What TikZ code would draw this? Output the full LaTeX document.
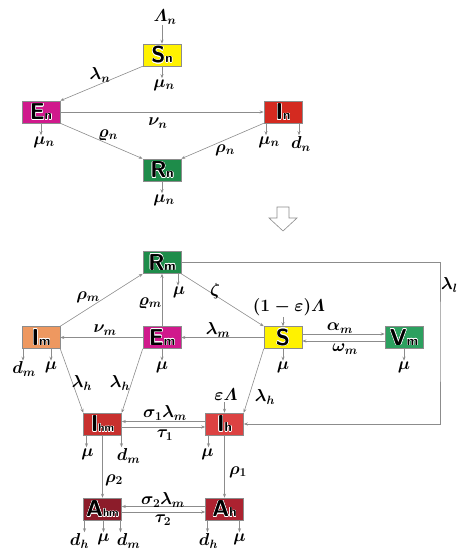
\documentclass[tikz,border=0pt]{standalone}
\usepackage{amsmath,amssymb}
\usepackage{contour}
\usetikzlibrary{arrows.meta,calc}
\contourlength{0.45pt}
\definecolor{susY}{HTML}{FFF200}
\definecolor{expM}{HTML}{D0198C}
\definecolor{infR}{HTML}{D42A20}
\definecolor{recG}{HTML}{1E8C4A}
\definecolor{infO}{HTML}{EE9860}
\definecolor{vacG}{HTML}{2CA05F}
\definecolor{ihmR}{HTML}{C8302E}
\definecolor{ihR}{HTML}{DC4242}
\definecolor{ahmR}{HTML}{8C1C2A}
\definecolor{ahR}{HTML}{AC2230}
\definecolor{lineG}{HTML}{8C8C8C}
\newcommand{\cmp}[2]{{\sffamily\bfseries\fontsize{23}{23}\selectfont\contour{white}{#1}%
  \fontsize{13}{13}\selectfont\contour{white}{#2}}}

\begin{document}
\begin{tikzpicture}[
  x=1pt, y=-1pt,
  box/.style={draw=black!45, line width=0.5pt, minimum width=38pt,
    minimum height=22pt, inner sep=0pt},
  rate/.style={font=\fontsize{17}{17}\selectfont\boldmath, inner sep=1pt},
  flow/.style={draw=lineG, line width=0.6pt, -{Stealth[length=4pt,width=3pt]}}
]
\useasboundingbox (0,0) rectangle (458,553);

% Upper model.
\node[box, fill=susY] (Sn) at (162,55) {\cmp{S}{n}};
\node[box, fill=expM] (En) at (41,112) {\cmp{E}{n}};
\node[box, fill=infR] (In) at (283,112) {\cmp{I}{n}};
\node[box, fill=recG] (Rn) at (162,170) {\cmp{R}{n}};

\node[rate] (Lamn) at (165,17) {$\varLambda_n$};
\draw[flow] (Lamn.south -| Sn.north) -- (Sn.north);
\draw[flow] (Sn.south west) -- (En.north east);
\draw[flow] (En.east) -- (In.west);
\draw[flow] (En.south east) -- (Rn.north west);
\draw[flow] (In.south west) -- (Rn.north east);
\node[rate] (lamn) at (100,75) {$\lambda_n$};
\node[rate] (nun) at (158,123) {$\nu_n$};
\node[rate] (vrhon) at (108,135) {$\varrho_n$};
\node[rate] (rhon) at (225,150) {$\rho_n$};

% Hollow arrow between the two models.
\draw[lineG, fill=white, line width=0.6pt] (277,207) -- (289,207) -- (289,218)
  -- (297,218) -- (283,231) -- (269,218) -- (277,218) -- cycle;

% Lower model.
\node[box, fill=recG] (Rm) at (162,262.5) {\cmp{R}{m}};
\node[box, fill=infO] (Im) at (41,337.5) {\cmp{I}{m}};
\node[box, fill=expM] (Em) at (162,337.5) {\cmp{E}{m}};
\node[box, fill=susY] (S) at (283,337.5) {\cmp{S}{}};
\node[box, fill=vacG] (Vm) at (404,337.5) {\cmp{V}{m}};
\node[box, fill=ihmR] (Ihm) at (102.5,424) {\cmp{I}{\fontsize{11}{11}\selectfont hm}};
\node[box, fill=ihR] (Ih) at (224.5,424) {\cmp{I}{h}};
\node[box, fill=ahmR] (Ahm) at (102.5,509) {\cmp{A}{\fontsize{11}{11}\selectfont hm}};
\node[box, fill=ahR] (Ah) at (224.5,509) {\cmp{A}{h}};

\draw[flow] (Im.north east) -- (Rm.south west);
\draw[flow] (Em.north) -- (Rm.south);
\draw[flow] (Rm.south east) -- (S.north west);
\draw[flow] (S.west) -- (Em.east);
\draw[flow] (Em.west) -- (Im.east);
\draw[flow] ([yshift=3.5pt]S.east) -- ([yshift=3.5pt]Vm.west);
\draw[flow] ([yshift=-3.5pt]Vm.west) -- ([yshift=-3.5pt]S.east);
\draw[flow] (Im.south east) -- (Ihm.north west);
\draw[flow] (Em.south west) -- (Ihm.north east);
\draw[flow] (S.south west) -- (Ih.north east);
\draw[flow] ([yshift=2.5pt]Ih.west) -- ([yshift=2.5pt]Ihm.east);
\draw[flow] ([yshift=-3pt]Ihm.east) -- ([yshift=-3pt]Ih.west);
\draw[flow] (Ihm.south) -- (Ahm.north);
\draw[flow] (Ih.south) -- (Ah.north);
\draw[flow] ([yshift=2.5pt]Ah.west) -- ([yshift=2.5pt]Ahm.east);
\draw[flow] ([yshift=-3pt]Ahm.east) -- ([yshift=-3pt]Ah.west);
\coordinate (lbend) at (440,340);
\draw[flow] (Rm.east) -| (lbend) |- (Ih.east);

\node[rate] (Lam1) at (289,307) {$(1-\varepsilon)\varLambda$};
\draw[flow] (Lam1.south -| S.north) -- (S.north);
\node[rate] (epsLam) at (226,395) {$\varepsilon\varLambda$};
\draw[flow] (epsLam.south -| Ih.north) -- (Ih.north);

\node[rate] (rhom) at (88,297) {$\rho_m$};
\node[rate] (vrhom) at (150,303) {$\varrho_m$};
\node[rate] (zeta) at (215,291) {$\zeta$};
\node[rate] (alpham) at (340,328) {$\alpha_m$};
\node[rate] (omegam) at (345,349) {$\omega_m$};
\node[rate] (lamm) at (218,330) {$\lambda_m$};
\node[rate] (num) at (105,330) {$\nu_m$};
\node[rate] (lamh1) at (82,383) {$\lambda_h$};
\node[rate] (lamh2) at (120,383) {$\lambda_h$};
\node[rate] (lamh3) at (265,397) {$\lambda_h$};
\node[rate] (sig1) at (165,413) {$\sigma_1\lambda_m$};
\node[rate] (tau1) at (165,435) {$\tau_1$};
\node[rate] (rho2) at (114,480) {$\rho_2$};
\node[rate] (rho1) at (238,472) {$\rho_1$};
\node[rate] (sig2) at (163,500) {$\sigma_2\lambda_m$};
\node[rate] (tau2) at (163,520) {$\tau_2$};
\node[rate, anchor=west, inner sep=0.5pt] (laml) at (440.5,285) {$\lambda_l$};

% Outflows below the boxes: box/offset/label shift/label.
\foreach \b/\dx/\lx/\t [count=\k] in {Sn/0/2/\mu_n, En/0/3/\mu_n, In/-17/3/\mu_n,
    In/16/2/d_n, Rn/0/2/\mu_n, Rm/16/1/\mu, Im/-18/1/d_m, Im/10/0/\mu, Em/0/0/\mu,
    S/0/0/\mu, Vm/0/0/\mu, Ihm/-16/1/\mu, Ihm/19/7/d_m, Ih/-16/-1/\mu,
    Ahm/-18/-5/d_h, Ahm/1/0/\mu, Ahm/18/8/d_m, Ah/-17/1/d_h, Ah/15/0/\mu}
{
  \coordinate (top\k) at ($(\b.south)+(\dx,0)$);
  \node[rate, anchor=north] (drop\k) at ($(\b.south)+(\dx+\lx,12)$) {$\t$};
  \draw[flow] (top\k) -- (top\k |- drop\k.north);
}
\end{tikzpicture}
\end{document}
